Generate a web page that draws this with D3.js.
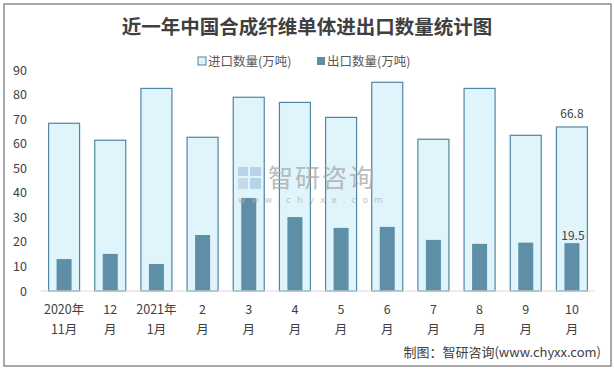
<!DOCTYPE html>
<html><head><meta charset="utf-8">
<script src="https://cdn.jsdelivr.net/npm/d3@7"></script>
<style>body{margin:0;background:#fff;} svg{display:block;}</style>
</head><body>
<svg id="chart" width="614" height="369"></svg>
<script>
const categories = ["2020年11月","12月","2021年1月","2月","3月","4月","5月","6月","7月","8月","9月","10月"];
const labelLine1 = ["2020年","12","2021年","2","3","4","5","6","7","8","9","10"];
const labelLine2 = ["11月","月","1月","月","月","月","月","月","月","月","月","月"];
const importValues = [68.3, 61.4, 82.5, 62.6, 78.9, 76.8, 70.7, 85.0, 61.8, 82.5, 63.4, 66.8];
const exportValues = [13.0, 15.1, 11.0, 22.8, 37.9, 30.1, 25.7, 26.1, 20.8, 19.2, 19.7, 19.5];
const yTicks = [0,10,20,30,40,50,60,70,80,90];
const seriesNames = ["进口数量(万吨)","出口数量(万吨)"];

const svg = d3.select("#chart");
const font = "'Microsoft YaHei','Noto Sans CJK SC','DejaVu Sans',sans-serif";

svg.append("rect").attr("x",4).attr("y",4).attr("width",607).attr("height",362)
  .attr("fill","#fff").attr("stroke","#8c8c8c").attr("stroke-width",1.5);

svg.append("text").attr("x",307).attr("y",34).attr("text-anchor","middle")
  .attr("font-family","'Noto Sans CJK SC',sans-serif").attr("font-weight","bold")
  .attr("font-size",19.5).attr("fill","#404040").text("近一年中国合成纤维单体进出口数量统计图");

const x = d3.scaleBand().domain(categories).range([41,595]);
const y = d3.scaleLinear().domain([0,90]).range([291,70]);

// y tick labels
svg.append("g").selectAll("text").data(yTicks).join("text")
  .attr("x",27).attr("y",d=>y(d)+4.5).attr("text-anchor","end")
  .attr("font-family",font).attr("font-size",12.5).attr("fill","#404040").text(d=>d);

// import bars
const iw = 31;
svg.append("g").selectAll("rect").data(importValues).join("rect")
  .attr("x",(d,i)=>x(categories[i])+x.bandwidth()/2-iw/2)
  .attr("y",d=>y(d)).attr("width",iw).attr("height",d=>y(0)-y(d))
  .attr("fill","#e0f4fb").attr("stroke","#4f86a3").attr("stroke-width",1.2);

// export bars
const ew = 15;
svg.append("g").selectAll("rect").data(exportValues).join("rect")
  .attr("x",(d,i)=>x(categories[i])+x.bandwidth()/2-ew/2)
  .attr("y",d=>y(d)).attr("width",ew).attr("height",d=>y(0)-y(d))
  .attr("fill","#5e8fa6");

// baseline
svg.append("line").attr("x1",41).attr("x2",595).attr("y1",y(0)).attr("y2",y(0))
  .attr("stroke","#d9d9d9").attr("stroke-width",1.2);

// watermark (drawn over bars, semi-transparent)
const wm = svg.append("g").attr("opacity",0.75);
wm.append("rect").attr("x",238).attr("y",167).attr("width",10).attr("height",9).attr("fill","#a9c8e3");
wm.append("rect").attr("x",250).attr("y",167).attr("width",11).attr("height",9).attr("fill","#a9c8e3");
wm.append("rect").attr("x",238).attr("y",178).attr("width",10).attr("height",11).attr("fill","#bcd0e3");
wm.append("rect").attr("x",250).attr("y",178).attr("width",11).attr("height",11).attr("fill","#a9c8e3");
wm.append("text").attr("x",268).attr("y",187).attr("font-family","'Noto Sans CJK SC',sans-serif")
  .attr("font-size",25).attr("fill","#a6a6a6").attr("letter-spacing",2).text("智研咨询");
wm.append("text").attr("x",238).attr("y",203).attr("font-family","'DejaVu Sans',sans-serif")
  .attr("font-size",9).attr("fill","#b0b0b0").attr("letter-spacing",6).text("www.chyxx.com");

// data labels on last
const li = categories.length-1;
const cx = x(categories[li])+x.bandwidth()/2;
svg.append("text").attr("x",cx).attr("y",y(importValues[li])-9).attr("text-anchor","middle")
  .attr("font-family",font).attr("font-size",12).attr("fill","#404040").text(importValues[li].toFixed(1));
svg.append("text").attr("x",cx+1).attr("y",y(exportValues[li])-3).attr("text-anchor","middle")
  .attr("font-family",font).attr("font-size",12).attr("fill","#404040").text(exportValues[li].toFixed(1));

// x labels
const xl = svg.append("g");
categories.forEach((c,i)=>{
  const cxx = x(c)+x.bandwidth()/2;
  xl.append("text").attr("x",cxx).attr("y",314).attr("text-anchor","middle")
    .attr("font-family",font).attr("font-size",12.5).attr("fill","#404040").text(labelLine1[i]);
  xl.append("text").attr("x",cxx).attr("y",334).attr("text-anchor","middle")
    .attr("font-family",font).attr("font-size",12.5).attr("fill","#404040").text(labelLine2[i]);
});

// legend
const lg = svg.append("g");
lg.append("rect").attr("x",198).attr("y",57).attr("width",8).attr("height",8)
  .attr("fill","#e0f4fb").attr("stroke","#4f86a3").attr("stroke-width",1);
lg.append("text").attr("x",208).attr("y",65.5).attr("font-family",font).attr("font-size",12.5)
  .attr("fill","#595959").text(seriesNames[0]);
lg.append("rect").attr("x",317).attr("y",57).attr("width",8).attr("height",8).attr("fill","#5e8fa6");
lg.append("text").attr("x",327).attr("y",65.5).attr("font-family",font).attr("font-size",12.5)
  .attr("fill","#595959").text(seriesNames[1]);

// footer
svg.append("text").attr("x",601).attr("y",357).attr("text-anchor","end")
  .attr("font-family",font).attr("font-size",13).attr("fill","#404040").text("制图：智研咨询(www.chyxx.com)");
</script>
</body></html>
